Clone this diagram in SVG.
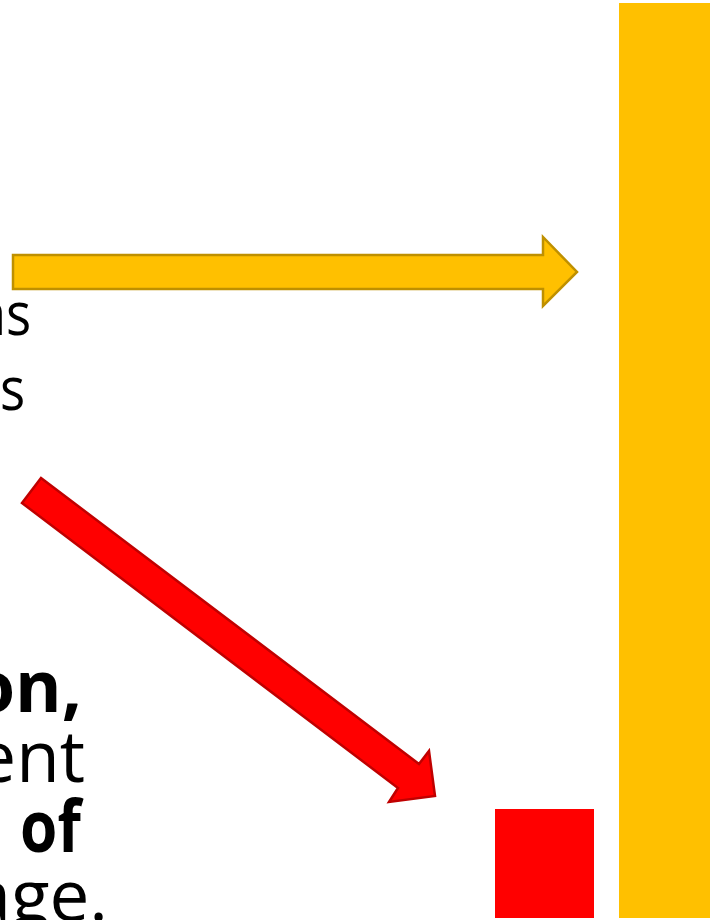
<svg xmlns="http://www.w3.org/2000/svg" width="710" height="920" viewBox="0 0 710 920">
<style>
.t{font-family:"Open Sans","Noto Sans",sans-serif;fill:#000}
.up{font-size:60px}
.lo{font-size:71px}
.b{font-weight:bold}
</style>
<rect width="710" height="920" fill="#fff"/>
<g id="text-top" transform="scale(0.88,1)">
<text class="t up" x="35.5" y="335" text-anchor="end">as</text>
<text class="t up" x="28.5" y="410" text-anchor="end">s</text>
</g>
<g id="text-bottom">
<text class="t lo b" x="82" y="712" text-anchor="end">on,</text>
<text class="t lo" x="85" y="782" text-anchor="end">ent</text>
<text class="t lo b" x="95" y="852" text-anchor="end" transform="scale(0.85,1)">l of</text>
<text class="t lo" x="108" y="921" text-anchor="end">age.</text>
</g>
<g id="yellow-bar"><rect x="619" y="3" width="91" height="915" fill="#FFC000"/></g>
<g id="red-square"><rect x="495" y="809" width="99" height="109" fill="#FF0000"/></g>
<g id="connectors">
<polygon id="yellow-arrow" points="13,255 543,255 543,237 577,272 543,306 543,289 13,289" fill="#FFC000" stroke="#BF9000" stroke-width="2.5" stroke-linejoin="miter"/>
<polygon id="red-arrow" points="41,478 419,764 429,751 435,796 389,802 398,788 22,503" fill="#FF0000" stroke="#C00000" stroke-width="2.5" stroke-linejoin="miter"/>
</g>
</svg>
